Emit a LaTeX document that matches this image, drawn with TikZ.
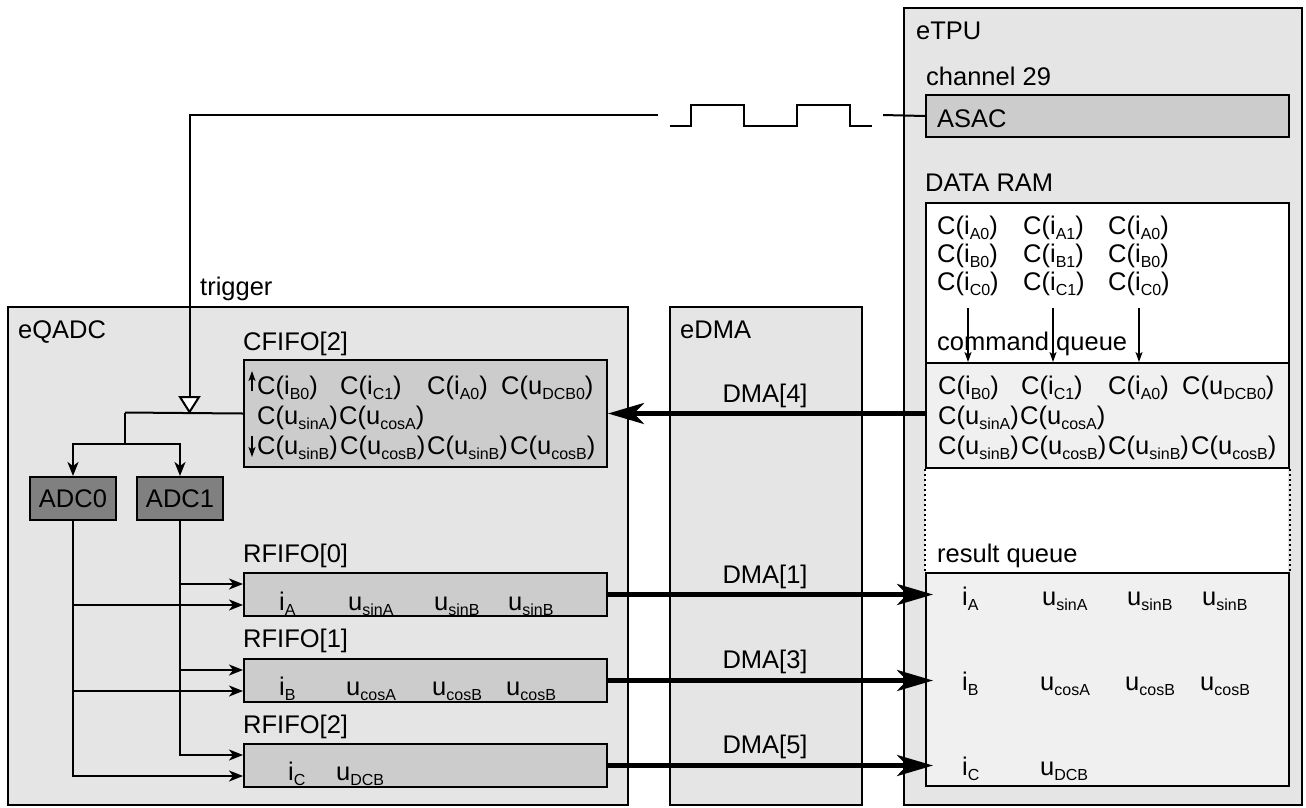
\documentclass[tikz,border=0pt]{standalone}
\usepackage{fontspec}
\setmainfont{Liberation Sans}
\usetikzlibrary{arrows.meta,calc}
\definecolor{bgc}{gray}{0.9}
\definecolor{fifoc}{gray}{0.8}
\definecolor{adcc}{gray}{0.5}
\definecolor{queuec}{gray}{0.94}
\newcommand{\sbs}[1]{\raisebox{-5pt}{\fontsize{16pt}{16pt}\selectfont #1}}
\newcommand{\Ci}[2]{C(#1\sbs{#2})}
\newcommand{\vv}[2]{#1\sbs{#2}}
\begin{document}
\begin{tikzpicture}[x=1pt,y=-1pt,
  font=\fontsize{25.5pt}{30pt}\selectfont,
  box/.style={draw, line width=2pt, rectangle, inner sep=0pt, anchor=north west},
  lbl/.style={anchor=base west, inner sep=0pt},
  clbl/.style={anchor=base, inner sep=0pt},
  wire/.style={line width=2pt},
  arr/.style={line width=2pt, -{Stealth[length=14pt,width=11pt,inset=4pt]}},
  sarr/.style={line width=1.6pt, -{Stealth[length=10pt,width=7pt,inset=2.5pt]}},
  big/.style={line width=4.5pt, -{Stealth[length=36pt,width=21pt,inset=10pt]}},
  dots/.style={line width=2pt, dash pattern=on 2pt off 3pt}
]
\useasboundingbox (0,0) rectangle (1306,807);

% main blocks
\node[box, fill=bgc, minimum width=620pt, minimum height=498pt] (eqadc) at (7,306) {};
\node[box, fill=bgc, minimum width=192pt, minimum height=498pt] (edma) at (669,306) {};
\node[box, fill=bgc, minimum width=398pt, minimum height=797pt] (etpu) at (903,7) {};

\node[lbl] (leqadc) at (18,338) {eQADC};
\node[lbl] (ledma) at (680,338) {eDMA};
\node[lbl] (letpu) at (916,39) {eTPU};

% eTPU internals
\node[lbl] (lch) at (926,85) {channel 29};
\node[box, fill=fifoc, minimum width=363pt, minimum height=42pt] (asac) at (925,94) {};
\node[lbl] (lasac) at (937,127) {ASAC};
\node[lbl] (ldram) at (925,191) {DATA RAM};

\fill[white] (925,467) rectangle (1288,572);
\node[box, fill=white, minimum width=363pt, minimum height=160pt] (dram) at (925,202) {};
\node[box, fill=queuec, minimum width=363pt, minimum height=105pt] (cq) at (925,362) {};
\node[box, fill=queuec, minimum width=363pt, minimum height=213pt] (rq) at (925,572) {};
\draw[dots] (cq.south west) -- (rq.north west);
\draw[dots] (cq.south east) -- (rq.north east);

\node[lbl] (d11) at (937,234) {\Ci{i}{A0}};
\node[lbl] (d12) at (1023,234) {\Ci{i}{A1}};
\node[lbl] (d13) at (1108,234) {\Ci{i}{A0}};
\node[lbl] (d21) at (937,262) {\Ci{i}{B0}};
\node[lbl] (d22) at (1023,262) {\Ci{i}{B1}};
\node[lbl] (d23) at (1108,262) {\Ci{i}{B0}};
\node[lbl] (d31) at (937,290) {\Ci{i}{C0}};
\node[lbl] (d32) at (1023,290) {\Ci{i}{C1}};
\node[lbl] (d33) at (1108,290) {\Ci{i}{C0}};
\node[lbl] (lcq) at (937,350) {command queue};

\coordinate (s1) at (968,308);
\coordinate (s2) at (1053,308);
\coordinate (s3) at (1139,308);
\draw[sarr] (s1) -- (s1 |- cq.north);
\draw[sarr] (s2) -- (s2 |- cq.north);
\draw[sarr] (s3) -- (s3 |- cq.north);

\node[lbl] (q11) at (938,394) {\Ci{i}{B0}};
\node[lbl] (q12) at (1021,394) {\Ci{i}{C1}};
\node[lbl] (q13) at (1108,394) {\Ci{i}{A0}};
\node[lbl] (q14) at (1182,394) {\Ci{u}{DCB0}};
\node[lbl] (q21) at (938,424) {\Ci{u}{sinA}};
\node[lbl] (q22) at (1020,424) {\Ci{u}{cosA}};
\node[lbl] (q31) at (938,454) {\Ci{u}{sinB}};
\node[lbl] (q32) at (1021,454) {\Ci{u}{cosB}};
\node[lbl] (q33) at (1108,454) {\Ci{u}{sinB}};
\node[lbl] (q34) at (1191,454) {\Ci{u}{cosB}};

\node[lbl] (lrq) at (937,562) {result queue};
\node[lbl] (r11) at (962,605) {\vv{i}{A}};
\node[lbl] (r12) at (1042,605) {\vv{u}{sinA}};
\node[lbl] (r13) at (1127,605) {\vv{u}{sinB}};
\node[lbl] (r14) at (1202,605) {\vv{u}{sinB}};
\node[lbl] (r21) at (962,690) {\vv{i}{B}};
\node[lbl] (r22) at (1040,690) {\vv{u}{cosA}};
\node[lbl] (r23) at (1125,690) {\vv{u}{cosB}};
\node[lbl] (r24) at (1200,690) {\vv{u}{cosB}};
\node[lbl] (r31) at (962,775) {\vv{i}{C}};
\node[lbl] (r32) at (1040,775) {\vv{u}{DCB}};

% eQADC internals
\node[lbl] (lcf) at (243,350) {CFIFO[2]};
\node[box, fill=fifoc, minimum width=363pt, minimum height=107pt] (cfifo) at (243,359) {};
\node[lbl] (c11) at (257,394) {\Ci{i}{B0}};
\node[lbl] (c12) at (340,394) {\Ci{i}{C1}};
\node[lbl] (c13) at (427,394) {\Ci{i}{A0}};
\node[lbl] (c14) at (501,394) {\Ci{u}{DCB0}};
\node[lbl] (c21) at (257,424) {\Ci{u}{sinA}};
\node[lbl] (c22) at (339,424) {\Ci{u}{cosA}};
\node[lbl] (c31) at (257,454) {\Ci{u}{sinB}};
\node[lbl] (c32) at (340,454) {\Ci{u}{cosB}};
\node[lbl] (c33) at (427,454) {\Ci{u}{sinB}};
\node[lbl] (c34) at (510,454) {\Ci{u}{cosB}};
\coordinate (up1) at (252,391);
\coordinate (up2) at (252,371);
\coordinate (dn1) at (252,436);
\coordinate (dn2) at (252,457);
\draw[sarr] (up1) -- (up2);
\draw[sarr] (dn1) -- (dn2);

\node[box, fill=adcc, minimum width=86pt, minimum height=43pt] (adc0) at (29,476) {ADC0};
\node[box, fill=adcc, minimum width=86pt, minimum height=43pt] (adc1) at (136,476) {ADC1};

\node[lbl] (lrf0) at (243,562) {RFIFO[0]};
\node[lbl] (lrf1) at (243,647) {RFIFO[1]};
\node[lbl] (lrf2) at (243,733) {RFIFO[2]};
\node[box, fill=fifoc, minimum width=363pt, minimum height=43pt] (rf0) at (243,572) {};
\node[box, fill=fifoc, minimum width=363pt, minimum height=43pt] (rf1) at (243,658) {};
\node[box, fill=fifoc, minimum width=363pt, minimum height=43pt] (rf2) at (243,743) {};

\node[lbl] (f11) at (279,610) {\vv{i}{A}};
\node[lbl] (f12) at (348,610) {\vv{u}{sinA}};
\node[lbl] (f13) at (434,610) {\vv{u}{sinB}};
\node[lbl] (f14) at (508,610) {\vv{u}{sinB}};
\node[lbl] (f21) at (279,695) {\vv{i}{B}};
\node[lbl] (f22) at (346,695) {\vv{u}{cosA}};
\node[lbl] (f23) at (432,695) {\vv{u}{cosB}};
\node[lbl] (f24) at (506,695) {\vv{u}{cosB}};
\node[lbl] (f31) at (288,780) {\vv{i}{C}};
\node[lbl] (f32) at (336,780) {\vv{u}{DCB}};

% trigger path
\node[lbl] (ltrig) at (200,295) {trigger};
\coordinate (trigA) at (658,115);
\coordinate (tritop) at (189.5,397);
\coordinate (triapex) at (189.5,412);
\coordinate (j1) at (125,412.5);
\coordinate (j2) at (125,444);
\draw[wire] (trigA) -| (tritop);
\draw[wire] (cfifo.west) -- (j1);
\draw[wire, fill=white, line join=miter] (180,397) -- (199,397) -- (triapex) -- cycle;
\draw[wire] (j1) -- (j2);
\draw[arr] (j2) -| (adc0.north);
\draw[arr] (j2) -| (adc1.north);

% pulse
\draw[wire] (670,126) -- (691,126) -- (691,105) -- (744,105) -- (744,126) -- (797,126) -- (797,105) -- (850,105) -- (850,126) -- (872,126);
\coordinate (asacIn) at (883,115);
\draw[wire] (asacIn) -- (asac.west);

% ADC outputs
\draw[arr] (adc1.south) |- ([yshift=10.5pt]rf0.west);
\draw[arr] (adc1.south) |- ([yshift=10.5pt]rf1.west);
\draw[arr] (adc1.south) |- ([yshift=10.5pt]rf2.west);
\draw[arr] (adc0.south) |- ([yshift=-10.5pt]rf0.west);
\draw[arr] (adc0.south) |- ([yshift=-10.5pt]rf1.west);
\draw[arr] (adc0.south) |- ([yshift=-10.5pt]rf2.west);

% DMA
\draw[big] (cq.west |- cfifo.east) -- (cfifo.east);
\draw[big] (rf0.east) -- ($(rf0.east -| rq.west)+(8,0)$);
\draw[big] (rf1.east) -- ($(rf1.east -| rq.west)+(8,0)$);
\draw[big] (rf2.east) -- ($(rf2.east -| rq.west)+(8,0)$);
\node[clbl] (dma4) at (765,402) {DMA[4]};
\node[clbl] (dma1) at (765,583) {DMA[1]};
\node[clbl] (dma3) at (765,668) {DMA[3]};
\node[clbl] (dma5) at (765,753) {DMA[5]};
\end{tikzpicture}
\end{document}
